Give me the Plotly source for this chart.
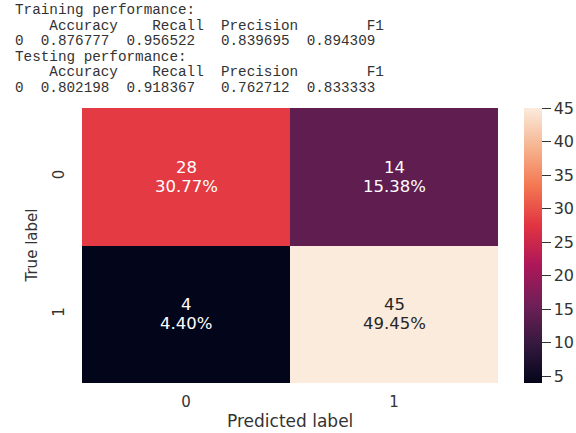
import plotly.graph_objects as go

# ---------------- data ----------------
metric_names = ["Accuracy", "Recall", "Precision", "F1"]
train_scores = [0.876777, 0.956522, 0.839695, 0.894309]
test_scores = [0.802198, 0.918367, 0.762712, 0.833333]

pred_labels = ["0", "1"]
true_labels = ["0", "1"]
conf_matrix = [[28, 14],
               [4, 45]]
cbar_ticks = [5, 10, 15, 20, 25, 30, 35, 40, 45]

# rocket colormap (seaborn) approximation
rocket = [
    [0.0, "#03051a"],
    [1 / 7, "#35193e"],
    [2 / 7, "#701f57"],
    [3 / 7, "#ad1759"],
    [4 / 7, "#e13342"],
    [5 / 7, "#f37651"],
    [6 / 7, "#f6b48f"],
    [1.0, "#faebdd"],
]

total = sum(sum(r) for r in conf_matrix)
zmin = min(min(r) for r in conf_matrix)
zmax = max(max(r) for r in conf_matrix)

W, H = 576, 433

fig = go.Figure()
fig.add_trace(go.Heatmap(
    z=conf_matrix, x=pred_labels, y=true_labels,
    colorscale=rocket, zmin=zmin, zmax=zmax,
    xgap=0, ygap=0, hoverinfo="skip",
    colorbar=dict(
        xref="container", x=524 / W, xanchor="left", xpad=0, ypad=0,
        y=0.5, yanchor="middle", len=1, lenmode="fraction",
        thickness=18, outlinewidth=0,
        ticks="outside", ticklen=9, tickwidth=1, tickcolor="#333333",
        tickvals=cbar_ticks,
        tickfont=dict(family="DejaVu Sans", size=16, color="#333333"),
    ),
))

FONT = "DejaVu Sans"
annotations = []
for i, row in enumerate(conf_matrix):
    for j, v in enumerate(row):
        frac = (v - zmin) / (zmax - zmin)
        col = "#262626" if frac > 0.85 else "#ffffff"
        annotations.append(dict(
            x=pred_labels[j], y=true_labels[i], xref="x", yref="y",
            text=str(v), showarrow=False, yshift=9.5,
            font=dict(family=FONT, size=16.5, color=col)))
        annotations.append(dict(
            x=pred_labels[j], y=true_labels[i], xref="x", yref="y",
            text=f"{v / total * 100:.2f}%", showarrow=False, yshift=-9.5,
            font=dict(family=FONT, size=16.5, color=col)))


# text output lines above the chart
def fmt_block(title, scores):
    widths = [max(len(n), len(f"{s:.6f}")) for n, s in zip(metric_names, scores)]
    header = "  " + "".join("  " + n.rjust(w) for n, w in zip(metric_names, widths))
    row = "0" + "".join("  " + f"{s:.6f}".rjust(w) for s, w in zip(scores, widths))
    return [title, header, row]


lines = fmt_block("Training performance:", train_scores) + \
    fmt_block("Testing performance:", test_scores)
line_centers = [10, 25.5, 41, 56.5, 72, 87.5]
for txt, yc in zip(lines, line_centers):
    annotations.append(dict(
        x=0, y=1, xref="paper", yref="paper", xanchor="left", yanchor="middle",
        xshift=13 - 82, yshift=108 - yc, showarrow=False,
        text=txt.replace(" ", "\u00a0"),
        font=dict(family="Liberation Mono", size=14.3, color="#333333")))

# axis titles
annotations.append(dict(
    x=0.5, y=0, xref="paper", yref="paper", xanchor="center", yanchor="middle",
    yshift=-(421 - 383), showarrow=False, text="Predicted label",
    font=dict(family=FONT, size=17, color="#333333")))
annotations.append(dict(
    x=0, y=0.5, xref="paper", yref="paper", xanchor="center", yanchor="middle",
    xshift=31 - 82, showarrow=False, text="True label", textangle=-90,
    font=dict(family=FONT, size=15, color="#333333")))

fig.update_layout(
    width=W, height=H, autosize=False,
    margin=dict(l=82, r=78, t=108, b=50, pad=0),
    paper_bgcolor="white", plot_bgcolor="white",
    annotations=annotations,
    xaxis=dict(showgrid=False, zeroline=False, showline=False, ticks="",
               ticklabelstandoff=8,
               tickfont=dict(family=FONT, size=15, color="#333333")),
    yaxis=dict(showgrid=False, zeroline=False, showline=False, ticks="",
               autorange="reversed", tickangle=-90, ticklabelstandoff=14,
               tickfont=dict(family=FONT, size=15, color="#333333")),
)

fig.write_html("out.html")
